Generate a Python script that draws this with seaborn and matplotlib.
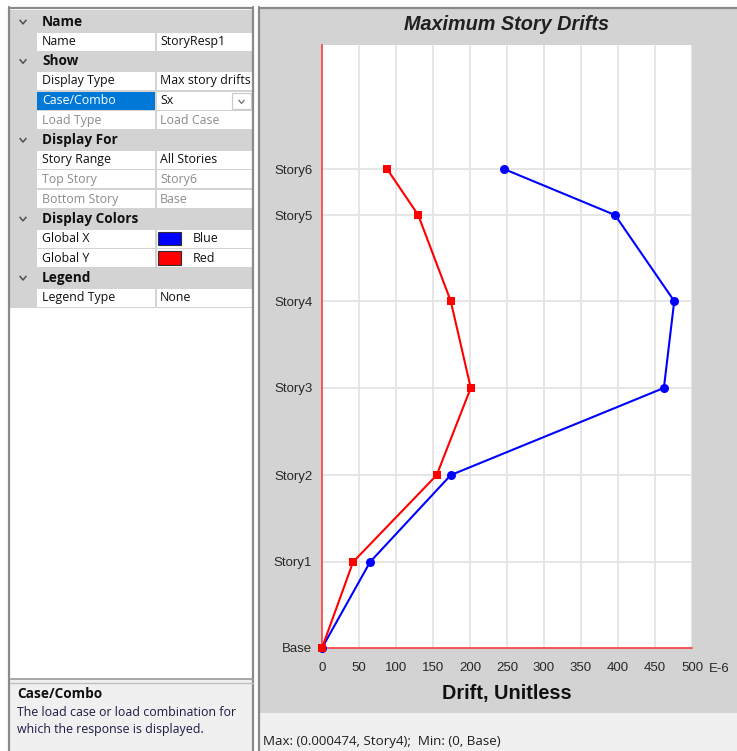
import matplotlib
matplotlib.use("Agg")
import matplotlib.pyplot as plt
import seaborn as sns
import pandas as pd
from matplotlib.patches import Rectangle

# ---------------- data ----------------
stories = ["Base", "Story1", "Story2", "Story3", "Story4", "Story5", "Story6"]
elevations = [0.0, 3.18, 6.39, 9.61, 12.82, 16.0, 17.7]
drift_x = [0, 65, 174, 462, 476, 396, 246]   # Global X (E-6)
drift_y = [0, 42, 155, 201, 174, 130, 88]    # Global Y (E-6)
x_ticks = [0, 50, 100, 150, 200, 250, 300, 350, 400, 450, 500]

panel_rows = [
    ("h", "Name", ""),
    ("r", "Name", "StoryResp1"),
    ("h", "Show", ""),
    ("r", "Display Type", "Max story drifts"),
    ("sel", "Case/Combo", "Sx"),
    ("dis", "Load Type", "Load Case"),
    ("h", "Display For", ""),
    ("r", "Story Range", "All Stories"),
    ("dis", "Top Story", "Story6"),
    ("dis", "Bottom Story", "Base"),
    ("h", "Display Colors", ""),
    ("col", "Global X", "Blue"),
    ("col", "Global Y", "Red"),
    ("h", "Legend", ""),
    ("r", "Legend Type", "None"),
]

df = pd.DataFrame({
    "drift": drift_x + drift_y,
    "elev": elevations + elevations,
    "dir": ["Global X"] * len(drift_x) + ["Global Y"] * len(drift_y),
})

W, H = 737, 751
sns.set_theme(style="white")
plt.rcParams["font.family"] = ["Liberation Sans", "DejaVu Sans"]

fig = plt.figure(figsize=(W / 100, H / 100), dpi=100)
fig.patch.set_facecolor("white")

bg = fig.add_axes([0, 0, 1, 1], zorder=0)
bg.set_xlim(0, W)
bg.set_ylim(H, 0)
bg.axis("off")


def rect(x0, y0, x1, y1, fc, ec="none", lw=0, z=1):
    bg.add_patch(Rectangle((x0, y0), x1 - x0, y1 - y0, facecolor=fc,
                           edgecolor=ec, linewidth=lw, zorder=z))


def chev(cx, cy, s=3.4, c="#505050", lw=1.1):
    bg.plot([cx - s, cx, cx + s], [cy - s * 0.6, cy + s * 0.6, cy - s * 0.6],
            color=c, lw=lw, zorder=5, solid_capstyle="butt")


GRAY = "#d3d3d3"
ui_font = ["Open Sans", "DejaVu Sans"]
FS = 8.9
FSB = 9.8

# ---------- right panel ----------
rect(260, 8, W, 713, GRAY)
rect(260, 713, W, H, "#f0f0f0")
bg.plot([259.5, 259.5], [7, H], color="#8a8a8a", lw=1.6, zorder=3)
bg.plot([259.5, W], [7.5, 7.5], color="#8a8a8a", lw=1.6, zorder=3)
bg.text(263, 742, "Max: (0.000474, Story4);  Min: (0, Base)", fontsize=9.6,
        family=ui_font, color="#202020", va="center", ha="left", zorder=5)

# ---------- left panel ----------
L, R = 10, 253
top = 12
rh = 19.7
rect(L, 8, R, 680, "white")
bg.plot([L - 0.5, L - 0.5], [7, H], color="#8a8a8a", lw=1.6, zorder=3)
bg.plot([R + 0.5, R + 0.5], [7, H], color="#8a8a8a", lw=1.6, zorder=3)
bg.plot([L, R], [7.5, 7.5], color="#8a8a8a", lw=1.6, zorder=3)
rect(L, 10, R, top + rh * len(panel_rows), GRAY)
for i, (kind, lab, val) in enumerate(panel_rows):
    y0 = top + i * rh
    yc = y0 + rh / 2
    if kind == "h":
        chev(23, yc)
        bg.text(42, yc, lab, fontsize=FSB, weight="bold", family=ui_font,
                color="#101010", va="center", ha="left", zorder=5)
        continue
    lab_bg = "#0078d7" if kind == "sel" else "white"
    rect(37, y0 + 0.8, 155.5, y0 + rh - 0.8, lab_bg, z=2)
    rect(157, y0 + 0.8, R, y0 + rh - 0.8, "white", z=2)
    tcol = "#8c8c8c" if kind == "dis" else "#101010"
    lcol = "white" if kind == "sel" else tcol
    bg.text(42, yc, lab, fontsize=FS, family=ui_font, color=lcol,
            va="center", ha="left", zorder=5)
    if kind == "col":
        sw = "#0000ff" if val == "Blue" else "#ff0000"
        rect(158, y0 + 3, 181, y0 + rh - 3, sw, ec="#303030", lw=0.8, z=4)
        bg.text(193, yc, val, fontsize=FS, family=ui_font, color=tcol,
                va="center", ha="left", zorder=5)
    else:
        bg.text(160, yc, val, fontsize=FS, family=ui_font, color=tcol,
                va="center", ha="left", zorder=5)
    if kind == "sel":
        rect(232, y0 + 2, 251, y0 + rh - 1.5, "white", ec="#c8c8c8", lw=0.8, z=4)
        chev(241.5, yc + 1, s=3, c="#707070", lw=0.9)

# description box
bg.plot([L, R], [678.5, 678.5], color="#9a9a9a", lw=1.2, zorder=3)
rect(L, 679, R, H, "#f0f0f0")
bg.plot([L, R], [682.5, 682.5], color="#c0c0c0", lw=1.0, zorder=3)
bg.text(17, 694, "Case/Combo", fontsize=FSB, weight="bold", family=ui_font,
        color="#101010", va="center", ha="left", zorder=5)
bg.text(17, 712, "The load case or load combination for", fontsize=FS,
        family=ui_font, color="#1c1c44", va="center", ha="left", zorder=5)
bg.text(17, 729, "which the response is displayed.", fontsize=FS,
        family=ui_font, color="#1c1c44", va="center", ha="left", zorder=5)

# ---------- chart ----------
px_l, px_r, px_t, px_b = 322, 692, 45, 648
ax = fig.add_axes([px_l / W, (H - px_b) / H, (px_r - px_l) / W, (px_b - px_t) / H],
                  zorder=2)
ax.set_facecolor("white")
sns.lineplot(data=df, x="drift", y="elev", hue="dir", style="dir",
             palette={"Global X": "#0000ff", "Global Y": "#ff0000"},
             markers={"Global X": "o", "Global Y": "s"}, dashes=False,
             estimator=None, orient="y", sort=False, ax=ax, legend=False,
             linewidth=1.5, markersize=6.5, markeredgewidth=0, clip_on=False)
for ln in ax.lines:
    if ln.get_marker() == "s":
        ln.set_markersize(6)
        ln.set_zorder(4)
    else:
        ln.set_zorder(3)

ax.set_xlim(0, 500)
ax.set_ylim(0, (px_b - px_t) / 27.06)
ax.set_xticks(x_ticks)
ax.set_xticklabels([str(t) for t in x_ticks])
ax.set_yticks(elevations)
ax.set_yticklabels(stories)
ax.grid(True, color="#e4e4e4", lw=1.3)
ax.set_axisbelow(True)
for s in ["top", "right"]:
    ax.spines[s].set_visible(False)
for s in ["left", "bottom"]:
    ax.spines[s].set_color("#ff3030")
    ax.spines[s].set_linewidth(1.1)
ax.tick_params(axis="both", which="both", direction="out", length=4, width=1,
               color="#404040", labelsize=9.5, labelcolor="#282828")
ax.tick_params(axis="y", pad=3)
ax.tick_params(axis="x", pad=6)
ax.set_xlabel("")
ax.set_ylabel("")

bg.text(709, 669, "E-6", fontsize=9.5, color="#282828", va="center", ha="left",
        zorder=5)
bg.text(507, 24, "Maximum Story Drifts", fontsize=14.3, weight="bold",
        style="italic", color="#202020", va="center", ha="center", zorder=5)
bg.text(507, 693, "Drift, Unitless", fontsize=14.3, weight="bold",
        color="#101010", va="center", ha="center", zorder=5)

fig.savefig("out.png", dpi=100, facecolor="white")
